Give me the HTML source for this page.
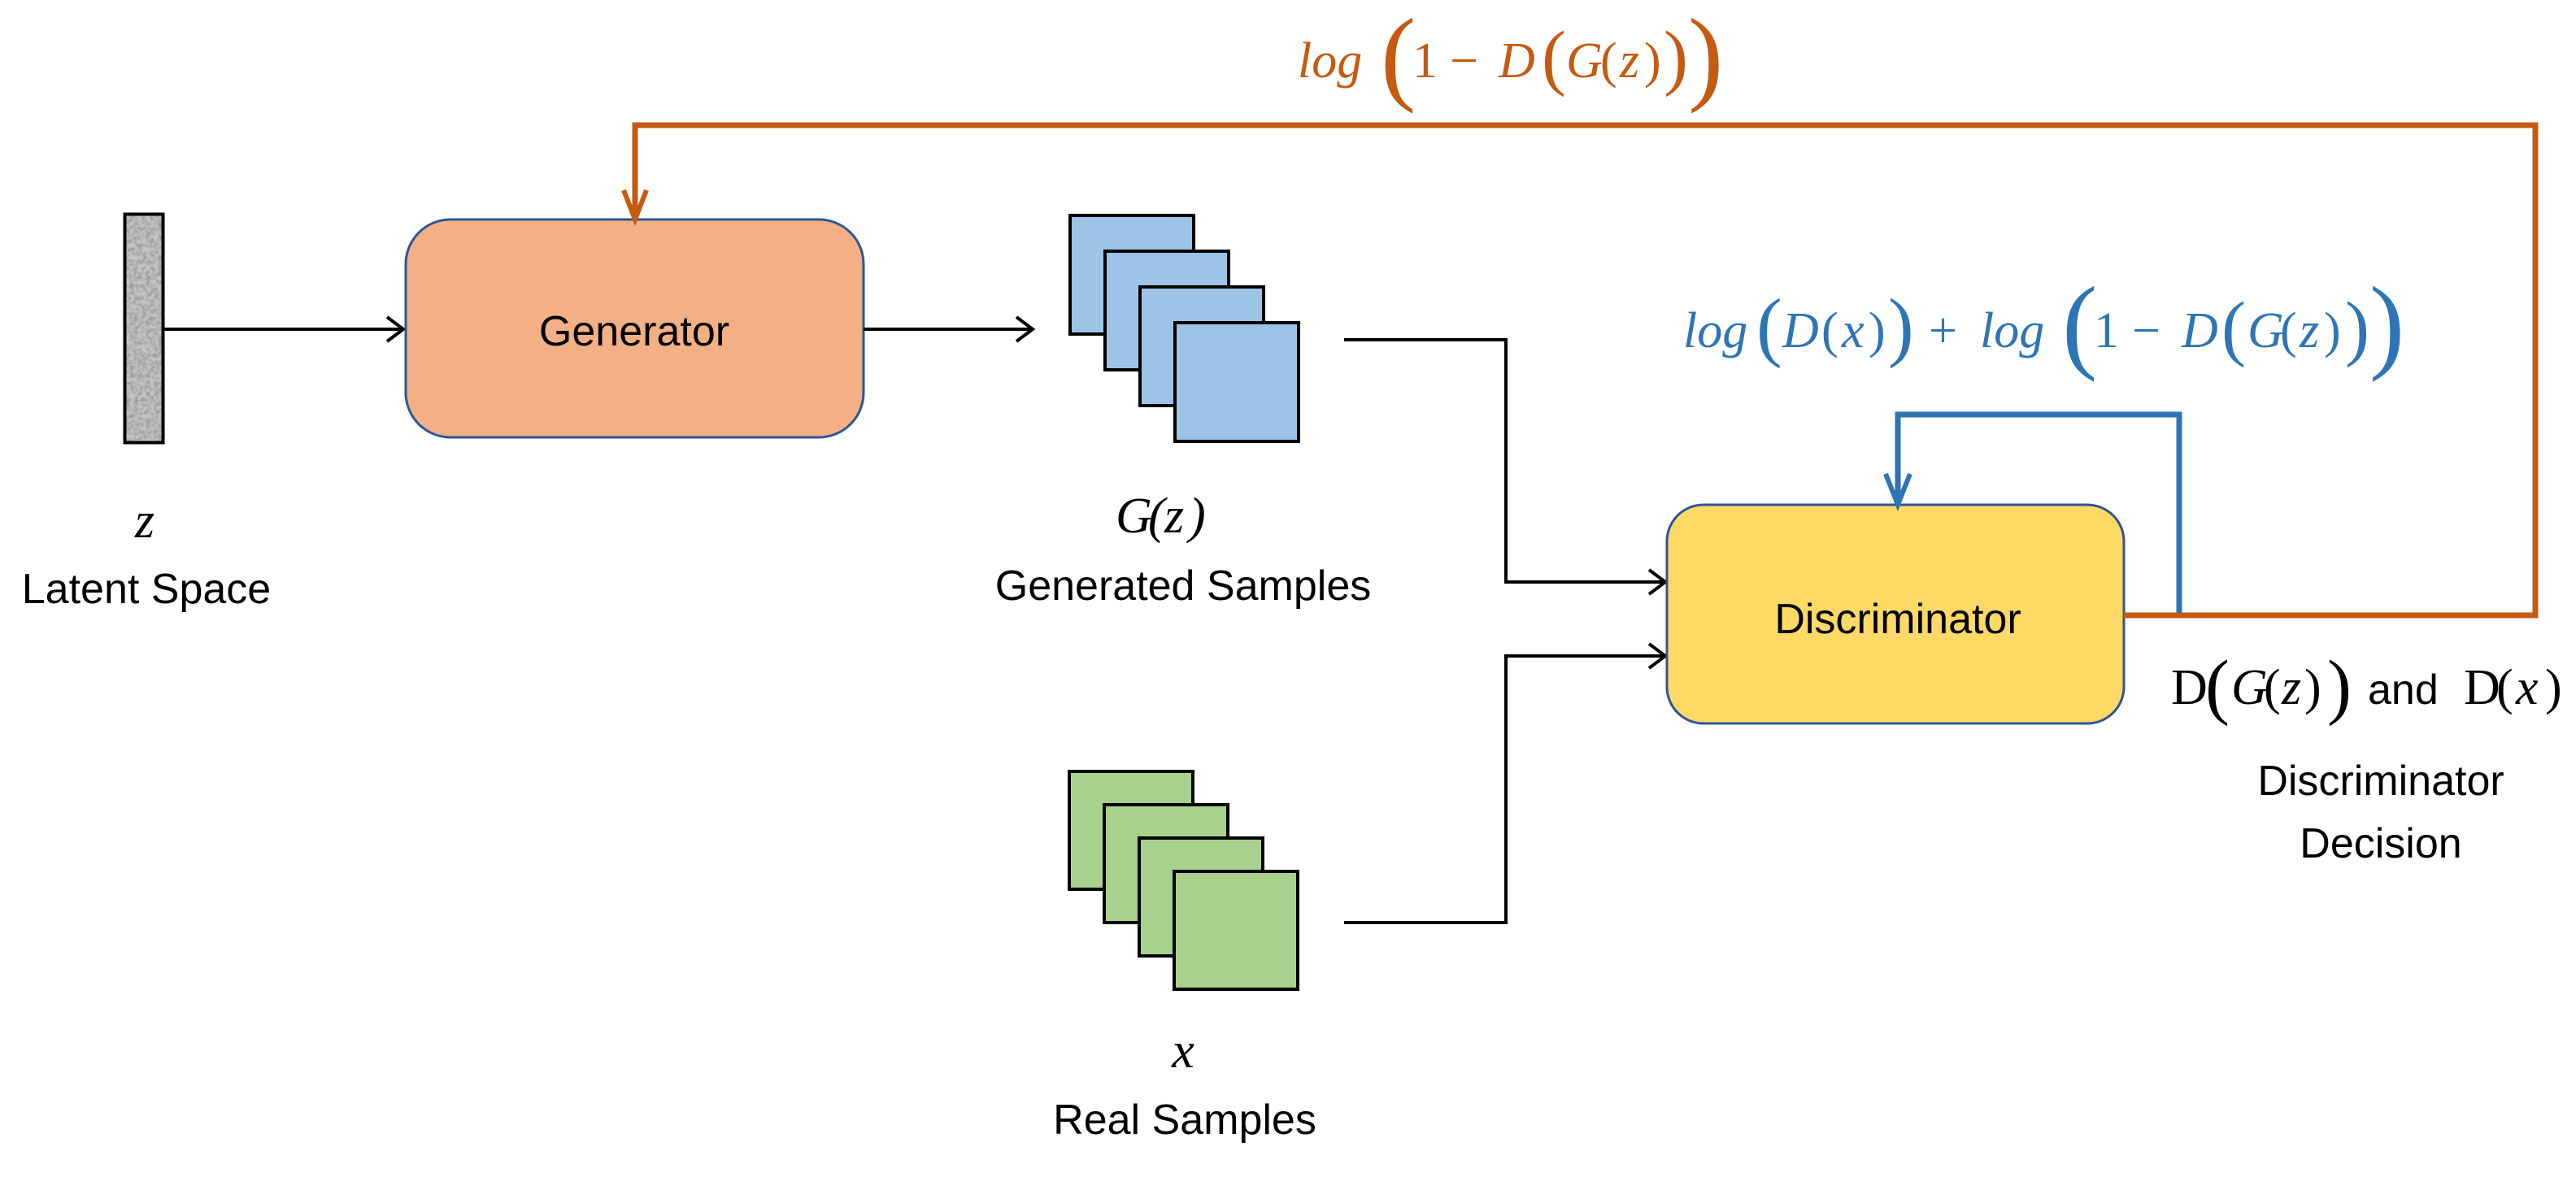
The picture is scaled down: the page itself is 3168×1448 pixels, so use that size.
<!DOCTYPE html>
<html><head><meta charset="utf-8"><style>
html,body{margin:0;padding:0;background:#fff;}
svg{display:block;}
.t{font-family:"Liberation Sans",sans-serif;font-size:52px;fill:#000;}
.m{font-family:"Liberation Serif",serif;font-style:italic;font-size:62px;}
</style></head><body>
<svg width="3168" height="1448" viewBox="0 0 3168 1448" xmlns="http://www.w3.org/2000/svg">
<defs>
<filter id="noise" x="0" y="0" width="100%" height="100%" filterUnits="objectBoundingBox">
<feTurbulence type="fractalNoise" baseFrequency="0.2" numOctaves="3" seed="4" result="n"/>
<feColorMatrix in="n" type="matrix" values="0 0 0 0 0.3  0 0 0 0 0.3  0 0 0 0 0.3  -2 0 0 0 1.3"/>
</filter>
</defs>
<!-- latent bar -->
<rect x="152" y="262" width="50" height="284" fill="#c4c4c4"/>
<rect x="152" y="262" width="50" height="284" fill="#fff" filter="url(#noise)"/>
<rect x="153.5" y="263.5" width="47" height="281" fill="none" stroke="#000" stroke-width="4"/>
<!-- arrow latent->gen -->
<line x1="202" y1="405" x2="495" y2="405" stroke="#000" stroke-width="4"/>
<polyline points="476,390 496,405 476,420" fill="none" stroke="#000" stroke-width="4"/>
<!-- generator -->
<rect x="499" y="270" width="563" height="268" rx="55" fill="#f3b084" stroke="#2f5597" stroke-width="3"/>
<text class="t" x="780" y="425" text-anchor="middle">Generator</text>
<!-- gen -> samples -->
<line x1="1062" y1="405" x2="1268" y2="405" stroke="#000" stroke-width="4"/>
<polyline points="1250,390 1270,405 1250,420" fill="none" stroke="#000" stroke-width="4"/>
<!-- blue squares -->
<g fill="#9dc3e6" stroke="#000" stroke-width="4">
<rect x="1316" y="265" width="152" height="146"/>
<rect x="1359" y="309" width="152" height="146"/>
<rect x="1402" y="353" width="152" height="146"/>
<rect x="1445" y="397" width="152" height="146"/>
</g>
<!-- green squares -->
<g fill="#a9d18e" stroke="#000" stroke-width="4">
<rect x="1315" y="949" width="152" height="145"/>
<rect x="1358" y="990" width="152" height="145"/>
<rect x="1401" y="1031" width="152" height="145"/>
<rect x="1444" y="1072" width="152" height="145"/>
</g>
<!-- connectors to discriminator -->
<polyline points="1653,418 1852,418 1852,716 2045,716" fill="none" stroke="#000" stroke-width="4"/>
<polyline points="2028,701 2048,716 2028,731" fill="none" stroke="#000" stroke-width="4"/>
<polyline points="1653,1135 1852,1135 1852,807 2045,807" fill="none" stroke="#000" stroke-width="4"/>
<polyline points="2028,792 2048,807 2028,822" fill="none" stroke="#000" stroke-width="4"/>
<!-- discriminator -->
<rect x="2050" y="621" width="562" height="269" rx="45" fill="#ffd966" stroke="#2f5597" stroke-width="3"/>
<text class="t" x="2334" y="779" text-anchor="middle">Discriminator</text>
<!-- orange loop -->
<polyline points="2612,757 3118,757 3118,154 781,154 781,264" fill="none" stroke="#c55a11" stroke-width="7"/>
<polyline points="767,234 781,270 795,234" fill="none" stroke="#c55a11" stroke-width="6"/>
<!-- blue loop -->
<polyline points="2680,754 2680,510 2334,510 2334,615" fill="none" stroke="#2e75b6" stroke-width="7"/>
<polyline points="2319,583 2334,621 2349,583" fill="none" stroke="#2e75b6" stroke-width="6"/>
<!-- labels -->
<text class="m" x="178" y="661" text-anchor="middle">z</text>
<text class="t" x="180" y="742" text-anchor="middle">Latent Space</text>
<text class="m" x="1455" y="655"><tspan x="1372">G</tspan><tspan x="1412">(</tspan><tspan x="1432">z</tspan><tspan x="1462">)</tspan></text>
<text class="t" x="1455" y="738" text-anchor="middle">Generated Samples</text>
<text class="m" x="1455" y="1313" text-anchor="middle">x</text>
<text class="t" x="1457" y="1395" text-anchor="middle">Real Samples</text>
<!-- orange formula -->
<g fill="#c55a11" class="m">
<text x="1596" y="95">log</text>
<text x="1698" y="112" style="font-style:normal;font-size:130px">(</text>
<text x="1737" y="95" style="font-style:normal">1</text>
<text x="1783" y="95" style="font-style:normal">−</text>
<text x="1843" y="95">D</text>
<text x="1896" y="100" style="font-style:normal;font-size:90px">(</text>
<text x="1926" y="95">G</text>
<text x="1968" y="95" style="font-style:normal">(</text>
<text x="1992" y="95">z</text>
<text x="2022" y="95" style="font-style:normal">)</text>
<text x="2046" y="100" style="font-style:normal;font-size:90px">)</text>
<text x="2076" y="112" style="font-style:normal;font-size:130px">)</text>
</g>
<!-- blue formula -->
<g fill="#2e75b6" class="m">
<text x="2070" y="427">log</text>
<text x="2160" y="433" style="font-style:normal;font-size:95px">(</text>
<text x="2192" y="427">D</text>
<text x="2240" y="427" style="font-style:normal">(</text>
<text x="2265" y="427">x</text>
<text x="2298" y="427" style="font-style:normal">)</text>
<text x="2322" y="433" style="font-style:normal;font-size:95px">)</text>
<text x="2372" y="427" style="font-style:normal">+</text>
<text x="2435" y="427">log</text>
<text x="2536" y="442" style="font-style:normal;font-size:130px">(</text>
<text x="2575" y="427" style="font-style:normal">1</text>
<text x="2622" y="427" style="font-style:normal">−</text>
<text x="2683" y="427">D</text>
<text x="2732" y="433" style="font-style:normal;font-size:90px">(</text>
<text x="2764" y="427">G</text>
<text x="2804" y="427" style="font-style:normal">(</text>
<text x="2828" y="427">z</text>
<text x="2858" y="427" style="font-style:normal">)</text>
<text x="2884" y="433" style="font-style:normal;font-size:90px">)</text>
<text x="2914" y="442" style="font-style:normal;font-size:130px">)</text>
</g>
<!-- decision label -->
<g class="m" fill="#000">
<text x="2670" y="866" style="font-style:normal">D</text>
<text x="2712" y="874" style="font-style:normal;font-size:90px">(</text>
<text x="2744" y="866">G</text>
<text x="2784" y="866" style="font-style:normal">(</text>
<text x="2806" y="866">z</text>
<text x="2834" y="866" style="font-style:normal">)</text>
<text x="2862" y="874" style="font-style:normal;font-size:90px">)</text>
<text x="3030" y="866" style="font-style:normal">D</text>
<text x="3070" y="866" style="font-style:normal">(</text>
<text x="3094" y="866">x</text>
<text x="3130" y="866" style="font-style:normal">)</text>
</g>
<text class="t" x="2912" y="866">and</text>
<text class="t" x="2928" y="978" text-anchor="middle">Discriminator</text>
<text class="t" x="2928" y="1055" text-anchor="middle">Decision</text>
</svg>
</body></html>
